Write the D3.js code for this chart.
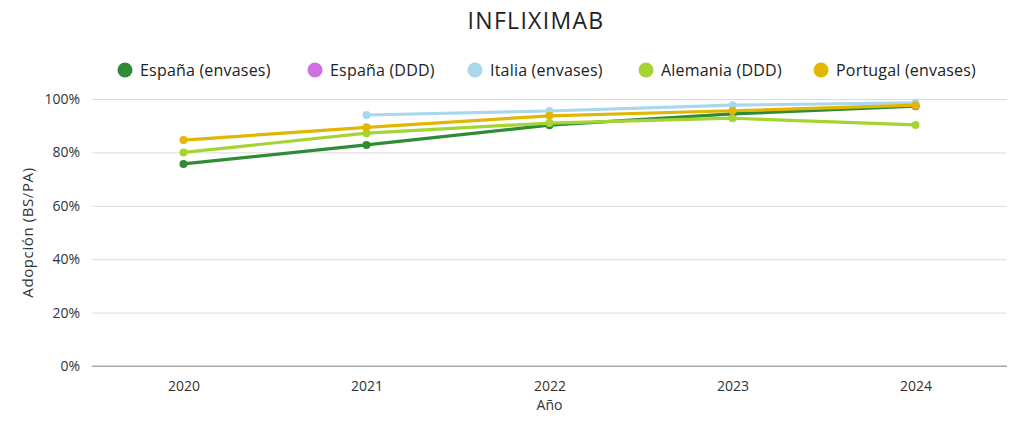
<!DOCTYPE html>
<html><head><meta charset="utf-8">
<script src="https://cdn.jsdelivr.net/npm/d3@7/dist/d3.min.js"></script>
<style>body{margin:0;background:#fff;} text{font-family:"Open Sans",sans-serif;}</style>
</head><body><svg id="c" width="1024" height="426"></svg>
<script>
const years = ["2020","2021","2022","2023","2024"];
const seriesNames = ["España (envases)","España (DDD)","Italia (envases)","Alemania (DDD)","Portugal (envases)"];
const seriesColors = ["#2e8b36","#d06fe3","#a9d7ee","#a6d432","#e2b704"];
const espanaEnvases = [75.7, 82.8, 90.2, 94.4, 97.3];
const espanaDDD = [null, null, null, null, 97.4];
const italiaEnvases = [null, 94.0, 95.5, 97.7, 98.6];
const alemaniaDDD = [80.0, 87.2, 91.0, 92.8, 90.3];
const portugalEnvases = [84.6, 89.4, 93.7, 95.6, 97.7];
const yTicks = [0,20,40,60,80,100];
const seriesValues = [espanaEnvases, espanaDDD, italiaEnvases, alemaniaDDD, portugalEnvases];

const svg = d3.select("#c");
const L=92,R=1007,T=99,B=366;
const x = d3.scalePoint().domain(years).range([L,R]).padding(0.5);
const y = d3.scaleLinear().domain([0,100]).range([B,T]);

svg.append("text").attr("x",536).attr("y",29).attr("text-anchor","middle")
  .attr("font-size",23).attr("letter-spacing",1.3).attr("fill","#222").text("INFLIXIMAB");

// grid
const gy = svg.append("g").attr("transform",`translate(${L},0)`)
  .call(d3.axisLeft(y).tickValues(yTicks).tickFormat(d=>d+"%").tickSize(-(R-L)).tickPadding(12));
gy.select(".domain").remove();
gy.selectAll(".tick line").attr("stroke","#dcdcdc");
gy.selectAll(".tick text").attr("font-size",14).attr("fill","#333").attr("font-family","'Open Sans',sans-serif");
gy.selectAll(".tick").filter(d=>d===0).select("line").attr("stroke","#aaa");

const gx = svg.append("g").attr("transform",`translate(0,${B})`)
  .call(d3.axisBottom(x).tickSize(0).tickPadding(15));
gx.select(".domain").attr("stroke","#aaa").attr("d",`M${L},0H${R}`);
gx.selectAll(".tick text").attr("font-size",14).attr("fill","#333").attr("font-family","'Open Sans',sans-serif");

svg.append("text").attr("x",(L+R)/2).attr("y",410).attr("text-anchor","middle")
  .attr("font-size",14).attr("fill","#333").text("Año");
svg.append("text").attr("transform",`translate(33,${(T+B)/2}) rotate(-90)`).attr("text-anchor","middle")
  .attr("font-size",15).attr("letter-spacing",0.6).attr("fill","#333").text("Adopción (BS/PA)");

// series
seriesValues.forEach((vals,i)=>{
  const pts = years.map((yr,j)=>({yr,v:vals[j]})).filter(d=>d.v!=null);
  const line = d3.line().x(d=>x(d.yr)).y(d=>y(d.v));
  svg.append("path").datum(pts).attr("d",line).attr("fill","none")
    .attr("stroke",seriesColors[i]).attr("stroke-width",3.2).attr("stroke-linejoin","round");
  svg.selectAll(null).data(pts).enter().append("circle")
    .attr("cx",d=>x(d.yr)).attr("cy",d=>y(d.v)).attr("r",4).attr("fill",seriesColors[i]);
});

// legend
const legX = [125, 315, 475, 646, 821];
seriesNames.forEach((n,i)=>{
  const g = svg.append("g").attr("transform",`translate(${legX[i]},70)`);
  g.append("circle").attr("r",7.5).attr("fill",seriesColors[i]);
  g.append("text").attr("x",15).attr("y",5.5).attr("font-size",16).attr("letter-spacing",0.2).attr("fill","#222").text(n);
});
</script></body></html>
